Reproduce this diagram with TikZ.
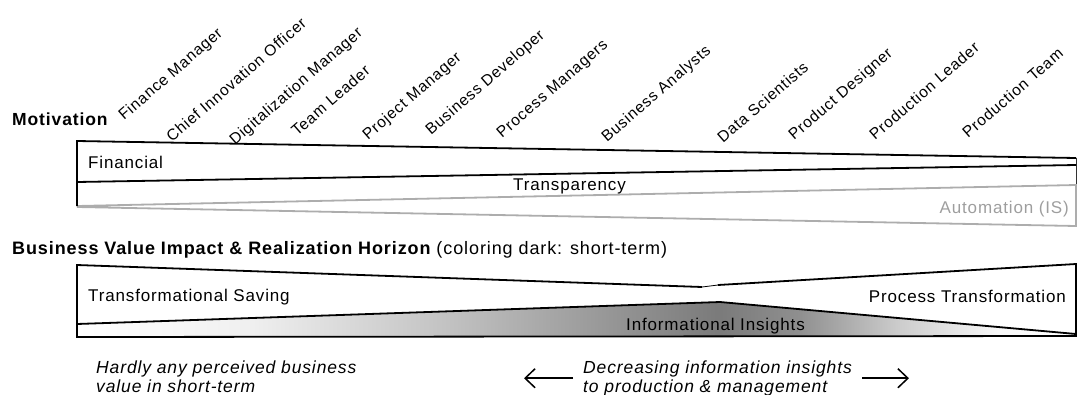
\documentclass[tikz,border=0pt]{standalone}
\usepackage{fontspec}
\setmainfont[LetterSpace=5]{Liberation Sans}
\usetikzlibrary{arrows.meta}

\pgfdeclarehorizontalshading{insightshade}{100bp}{color(0bp)=(white); color(25bp)=(white);
  color(33.6bp)=(black!6); color(43.6bp)=(black!24); color(52.1bp)=(black!42);
  color(57.1bp)=(black!52); color(61.1bp)=(black!44); color(66.1bp)=(black!20);
  color(71.1bp)=(black!3); color(75bp)=(white); color(100bp)=(white)}

\begin{document}
\begin{tikzpicture}[x=1pt, y=-1pt,
    role/.style={rotate=41, anchor=base west, inner sep=0pt, font=\fontsize{15.6}{17}\selectfont},
    boxtext/.style={inner sep=0pt, font=\fontsize{17}{19}\selectfont},
    heading/.style={inner sep=0pt, anchor=base west, font=\fontsize{17.5}{20}\selectfont\bfseries},
    remark/.style={inner sep=0pt, align=left, anchor=base west, font=\fontsize{17.5}{18.5}\selectfont\itshape},
    outline/.style={line width=1.8pt},
    faint/.style={draw=black!32, line width=1.8pt},
    barb/.style={line width=1.5pt, -{Straight Barb[length=10pt,width=19pt]}}]

\useasboundingbox (0,0) rectangle (1078,394);

% roles
\node[role] (fin) at (124,121) {Finance Manager};
\node[role] (cio) at (172,143) {Chief Innovation Officer};
\node[role] (dig) at (235,146) {Digitalization Manager};
\node[role] (tl) at (297,137) {Team Leader};
\node[role] (pm) at (368,141) {Project Manager};
\node[role] (bd) at (431,136) {Business Developer};
\node[role] (prm) at (502,139) {Process Managers};
\node[role] (ba) at (607,143) {Business Analysts};
\node[role] (ds) at (723,144) {Data Scientists};
\node[role] (pd) at (794,141) {Product Designer};
\node[role] (pl) at (875,141) {Production Leader};
\node[role] (pt) at (968,139) {Production Team};

\node[heading] (motiv) at (12,125) {Motivation};

% motivation wedges
\draw[faint] (77,207) -- (1076,226) -- (1076,185) -- (77,206);
\draw[outline] (77,206) -- (77,141) -- (1076,158);
\draw[line width=1pt, black!80] (1076,158) -- (1076,184);
\draw[outline] (77,182) -- (1076,165);

\node[boxtext, anchor=base west] (finan) at (88,168) {Financial};
\node[boxtext, anchor=base west] (transp) at (513,190) {Transparency};
\node[boxtext, anchor=base east, text=black!38] (autom) at (1069,213) {Automation (IS)};

\node[heading, font=\fontsize{18}{20}\selectfont\bfseries] (impact) at (12,254) {Business Value Impact \& Realization Horizon
  {\mdseries (coloring dark: short-term)}};

% value wedges
\shade[shading=insightshade] (77,324) -- (720,302) -- (1076,334) -- (1076,336) -- (77,337) -- cycle;
\draw[outline] (702,287) -- (77,265) -- (77,337) -- (1076,336) -- (1076,264) -- (718,285);
\draw[line width=0.8pt] (702,287) -- (718,285);
\draw[outline] (77,324) -- (720,302) -- (1076,334);

\node[boxtext, anchor=base west] (saving) at (88,301) {Transformational Saving};
\node[boxtext, anchor=base east] (proctr) at (1066,302) {Process Transformation};
\node[boxtext, anchor=base west] (insight) at (626,330) {Informational Insights};

\node[remark] (hardly) at (96,392) {Hardly any perceived business\\value in short-term};
\node[remark, inner xsep=10pt] (decr) at (573,392) {Decreasing information insights\\to production \& management};

\coordinate (lefttip) at (524,0);
\coordinate (righttip) at (909,0);
\draw[barb] (decr.west) -- (decr.west -| lefttip);
\draw[barb] (decr.east) -- (decr.east -| righttip);

\end{tikzpicture}
\end{document}
